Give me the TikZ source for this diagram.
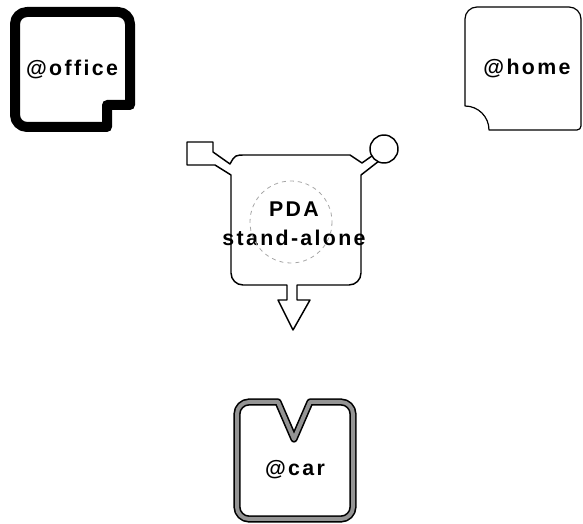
\documentclass[tikz,border=0pt]{standalone}
\usepackage{fontspec}
\setmainfont{Liberation Sans}
\newfontfamily\placefont[LetterSpace=11]{Liberation Sans}
\usetikzlibrary{positioning}

\tikzset{
  place/.style={font=\placefont\bfseries\fontsize{16}{18}\selectfont, inner sep=1pt},
  office line/.style={line width=7.5pt},
  home line/.style={line width=0.9pt},
  pda line/.style={line width=1.1pt},
  car line/.style={line width=1.2pt, double=black!42, double distance=3pt},
}

\begin{document}
\begin{tikzpicture}[x=0.75pt, y=-0.75pt, line join=round]
    \useasboundingbox (0,0) rectangle (583,524);

    % Nodes
    \node[place] (office) at (72,69) {@office};
    \node[place] (home) at (527,68) {@home};
    \node[place] (pda) at (294,209) {PDA};
    \node[place] (standalone) at (294,238) {stand-alone};
    \node[place] (car) at (295,470) {@car};

    \coordinate (pdaport) at (384,149);

    % Places
    \draw[office line] (15,60) -- (15,24) arc[start angle=180, end angle=270, radius=12] -- (118,12) arc[start angle=270, end angle=360, radius=12] -- (130,105) -- (107,105) -- (107,127) -- (27,127) arc[start angle=90, end angle=180, radius=12] -- cycle;
    \draw[home line] (465,106) -- (465,19) arc[start angle=180, end angle=270, radius=12] -- (569,7) arc[start angle=270, end angle=360, radius=12] -- (581,126) arc[start angle=0, end angle=90, radius=4] -- (489,130) arc[start angle=0, end angle=-90, radius=24] -- cycle;
    \draw[car line] (237,470) -- (237,414) arc[start angle=180, end angle=270, radius=12] -- (278,402) -- (294,439) -- (310,402) -- (341,402) arc[start angle=270, end angle=360, radius=12] -- (353,507) arc[start angle=0, end angle=90, radius=12] -- (249,519) arc[start angle=90, end angle=180, radius=12] -- cycle;

    % PDA
    \draw[gray!70, dashed, line width=0.6pt] (291,222) circle[radius=41];
    \draw[pda line] (pdaport) circle[radius=14];
    \draw[pda line] ([shift={(115:14)}]pdaport) -- (361,175) -- (361,273) arc[start angle=0, end angle=90, radius=12] -- (297,285) -- (297,300) -- (310,300) -- (293,330) -- (278,300) -- (287,300) -- (287,285) -- (243,285) arc[start angle=90, end angle=180, radius=12] -- (231,175) -- (215,165) -- (187,165) -- (187,142) -- (213,142) -- (213,152) -- (230,164) .. controls (235,155) .. (246,155) -- (350,155) -- (362,163) -- ([shift={(150:14)}]pdaport);
\end{tikzpicture}
\end{document}
